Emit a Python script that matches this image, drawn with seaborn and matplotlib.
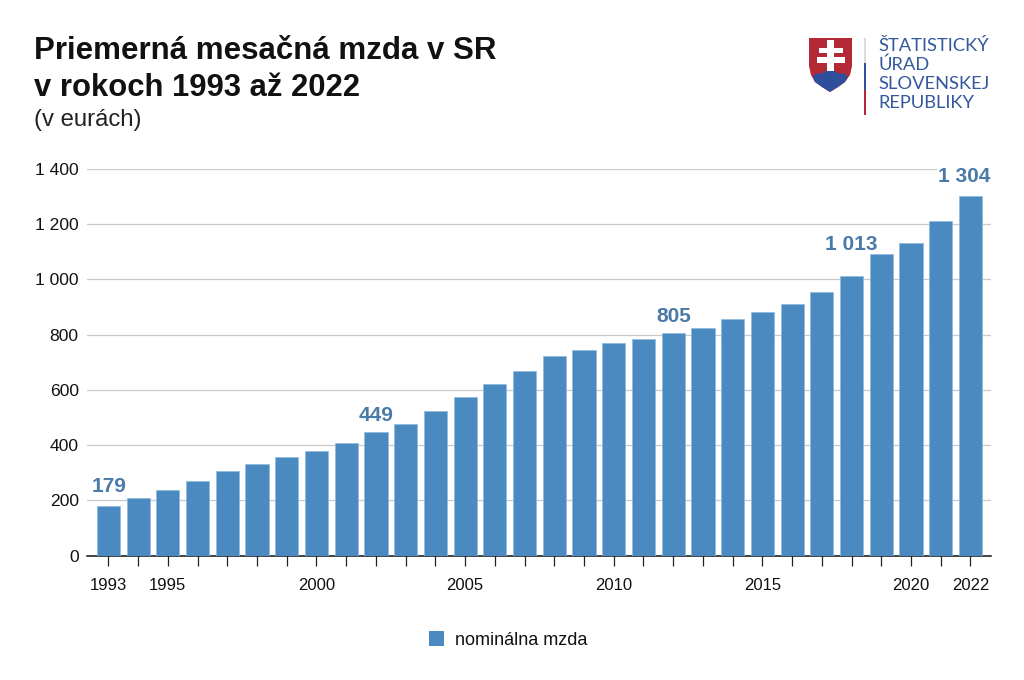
import matplotlib
matplotlib.use("Agg")
import matplotlib.pyplot as plt
from matplotlib.patches import Patch, Polygon, Rectangle
import pandas as pd
import seaborn as sns

# Priemerna mesacna mzda v SR
years = list(range(1993, 2023))
wages = [179, 208, 238, 270, 305, 332, 355, 379, 409, 449,
         476, 525, 573, 623, 669, 723, 745, 769, 786, 805,
         824, 858, 883, 912, 954, 1013, 1092, 1133, 1211, 1304]
shown_years = [1993, 1995, 2000, 2005, 2010, 2015, 2020, 2022]
labelled_years = [1993, 2002, 2012, 2018, 2022]
y_ticks = [0, 200, 400, 600, 800, 1000, 1200, 1400]

BLUE = "#4a8ac0"
LABEL_BLUE = "#4a7aa8"
W, H = 1024, 680
# posuny popiskov v bodoch
label_shift = {1993: (0.5, 7), 2002: (0, 5), 2012: (0.5, 5), 2018: (-0.5, 16), 2022: (-4.5, 7)}


def sk(v):
    return f"{v:,}".replace(",", " ")


sns.set_theme(style="white")
plt.rcParams["font.family"] = ["Liberation Sans", "DejaVu Sans"]

df = pd.DataFrame({"rok": years, "mzda": wages})

fig = plt.figure(figsize=(W / 100, H / 100), dpi=100, facecolor="white")
ax = fig.add_axes([87 / W, 1 - 555.5 / H, (991 - 87) / W, (555.5 - 169) / H])

sns.barplot(data=df, x="rok", y="mzda", color=BLUE, saturation=1, width=0.78,
            edgecolor="#8dbbdf", linewidth=0.5, ax=ax, zorder=3)

ax.set_xlim(-0.72, 29.69)
ax.set_ylim(0, 1400)
ax.set_xlabel("")
ax.set_ylabel("")
ax.set_yticks(y_ticks)
ax.set_yticklabels([sk(v) for v in y_ticks], fontsize=12.6, color="#111111")
ax.set_xticks(range(len(years)))
ax.set_xticklabels([str(y) if y in shown_years else "" for y in years],
                   fontsize=12, color="#111111")
ax.tick_params(axis="y", length=0, pad=6)
ax.tick_params(axis="x", length=7, width=0.9, color="#222222", pad=9, bottom=True)
ax.grid(axis="y", color="#c9c9c9", linewidth=0.9, zorder=0)
ax.set_axisbelow(True)
for side in ["top", "left", "right"]:
    ax.spines[side].set_visible(False)
ax.spines["bottom"].set_color("#111111")
ax.spines["bottom"].set_linewidth(1.1)

# popisky vybranych rokov
for y in labelled_years:
    i = years.index(y)
    ax.annotate(sk(wages[i]), (i, wages[i]), xytext=label_shift[y], textcoords="offset points",
                ha="center", va="bottom", fontsize=15, fontweight="bold",
                color=LABEL_BLUE, zorder=5, clip_on=False,
                bbox=dict(facecolor="white", edgecolor="none", pad=1.0) if y == 2022 else None)

# nadpis
fig.text(34 / W, 1 - 59 / H, "Priemerná mesačná mzda v SR", fontsize=22.5,
         fontweight="bold", color="#111111", va="baseline")
fig.text(34 / W, 1 - 96 / H, "v rokoch 1993 až 2022", fontsize=22.3,
         fontweight="bold", color="#111111", va="baseline")
fig.text(34 / W, 1 - 126 / H, "(v eurách)", fontsize=17.2, color="#222222", va="baseline")

# legenda
fig.legend(handles=[Patch(facecolor=BLUE, edgecolor="none", label="nominálna mzda")],
           loc="center", bbox_to_anchor=(508 / W, 1 - 640 / H), frameon=False,
           fontsize=13, handlelength=0.85, handleheight=0.85, handletextpad=0.6,
           labelcolor="#111111")

# logo v pixeloch
logo = fig.add_axes([0, 0, 1, 1], zorder=6)
logo.set_xlim(0, W)
logo.set_ylim(H, 0)
logo.axis("off")
logo.patch.set_alpha(0)
RED = "#b32a36"
DARK = "#2f4f9c"
shield = [(809, 38), (852, 38), (852, 66), (850, 75), (845, 82), (838, 87),
          (830, 92), (822, 87), (815, 82), (811, 75), (809, 66)]
logo.add_patch(Polygon(shield, closed=True, facecolor=RED, edgecolor="none"))
hills = [(813, 77), (816, 73), (821, 74), (825, 71), (830, 70), (835, 71), (839, 74),
         (844, 73), (848, 77), (845, 82), (838, 87), (830, 92), (822, 87), (815, 82)]
logo.add_patch(Polygon(hills, closed=True, facecolor=DARK, edgecolor="none"))
# dvojkriz
logo.add_patch(Rectangle((827, 40), 7, 31, facecolor="white", edgecolor="none"))
logo.add_patch(Rectangle((819, 48), 24, 5, facecolor="white", edgecolor="none"))
logo.add_patch(Rectangle((817, 57), 28, 6, facecolor="white", edgecolor="none"))
# zvisla ciara
logo.add_patch(Rectangle((863.5, 38), 2.5, 25, facecolor="#dcdcdc", edgecolor="none"))
logo.add_patch(Rectangle((863.5, 63), 2.5, 27, facecolor=DARK, edgecolor="none"))
logo.add_patch(Rectangle((863.5, 90), 2.5, 25, facecolor=RED, edgecolor="none"))
logo_lines = ["ŠTATISTICKÝ", "ÚRAD", "SLOVENSKEJ", "REPUBLIKY"]
logo_y = [51, 70, 89, 108]
for line, ypx in zip(logo_lines, logo_y):
    logo.text(878, ypx, line, fontsize=13.2, color="#33589e", family="Lato", va="baseline")

fig.savefig("out.png", dpi=100)
